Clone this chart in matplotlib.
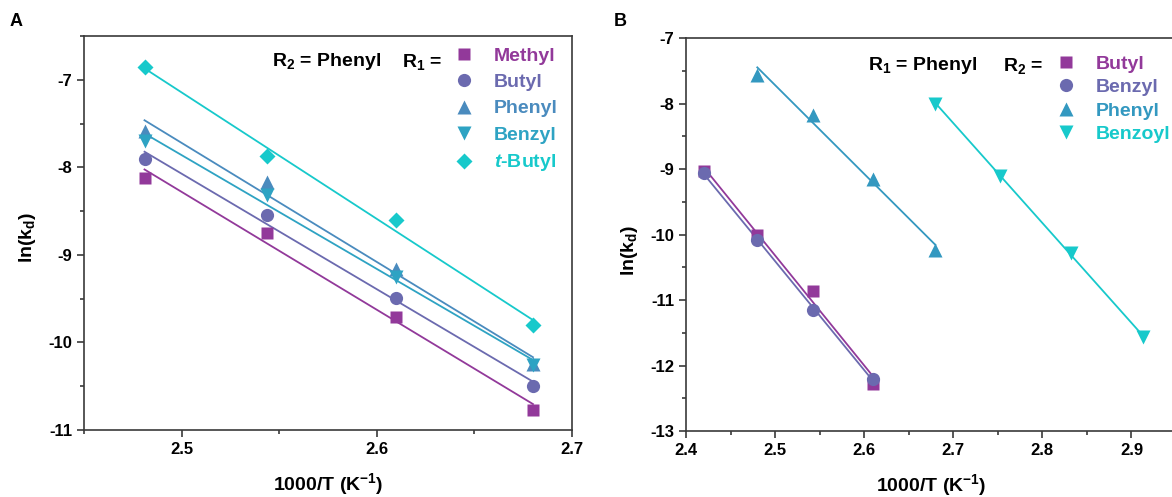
import numpy as np
import matplotlib.pyplot as plt
from matplotlib.lines import Line2D
from matplotlib.ticker import MultipleLocator

plt.rcParams['font.family'] = 'Liberation Sans'
plt.rcParams['font.weight'] = 'bold'
plt.rcParams['axes.labelweight'] = 'bold'
plt.rcParams['axes.unicode_minus'] = False
plt.rcParams['mathtext.fontset'] = 'custom'
plt.rcParams['mathtext.rm'] = 'Liberation Sans:bold'
plt.rcParams['mathtext.bf'] = 'Liberation Sans:bold'
plt.rcParams['mathtext.it'] = 'Liberation Sans:italic:bold'
plt.rcParams['mathtext.default'] = 'bf'

# Panel A: R2 = Phenyl, varying R1
x_a = [2.481, 2.5435, 2.610, 2.680]
labels_a = ['Methyl', 'Butyl', 'Phenyl', 'Benzyl', r'$\mathit{t}$-Butyl']
methyl_a = [-8.12, -8.75, -9.715, -10.77]
butyl_a = [-7.90, -8.55, -9.49, -10.50]
phenyl_a = [-7.58, -8.17, -9.16, -10.25]
benzyl_a = [-7.70, -8.32, -9.25, -10.26]
tbutyl_a = [-6.85, -7.87, -8.60, -9.80]
series_a = [methyl_a, butyl_a, phenyl_a, benzyl_a, tbutyl_a]

# Panel B: R1 = Phenyl, varying R2
labels_b = ['Butyl', 'Benzyl', 'Phenyl', 'Benzoyl']
x_butyl_b = [2.42, 2.48, 2.543, 2.61]
butyl_b = [-9.03, -10.00, -10.86, -12.28]
x_benzyl_b = [2.42, 2.48, 2.543, 2.61]
benzyl_b = [-9.06, -10.08, -11.16, -12.21]
x_phenyl_b = [2.48, 2.543, 2.61, 2.68]
phenyl_b = [-7.56, -8.17, -9.15, -10.24]
x_benzoyl_b = [2.68, 2.753, 2.832, 2.913]
benzoyl_b = [-8.01, -9.10, -10.28, -11.57]

colors_a = ['#92399A', '#6B6AAF', '#4A8BBE', '#2EA3C3', '#17C9CB']
markers_a = ['s', 'o', '^', 'v', 'D']
colors_b = ['#92399A', '#6B6AAF', '#3398C0', '#17C9CB']
markers_b = ['s', 'o', '^', 'v']
msizes = {'s': 8.5, 'o': 9.5, '^': 9.5, 'v': 9.5, 'D': 8.5}

W, H = 1172, 497
fig = plt.figure(figsize=(W / 100, H / 100), dpi=100)
axA = fig.add_axes([84 / W, (H - 430) / H, 488 / W, 394 / H])
axB = fig.add_axes([686 / W, (H - 431) / H, 490 / W, 393 / H])


def fit_line(ax, x, y, c):
    k, b = np.polyfit(x, y, 1)
    xs = np.array([min(x), max(x)])
    ax.plot(xs, k * xs + b, color=c, lw=1.3, zorder=2)


for y, c, m in zip(series_a, colors_a, markers_a):
    fit_line(axA, x_a, y, c)
    axA.plot(x_a, y, m, color=c, ms=msizes[m], mec='none', zorder=3)

xs_b = [x_butyl_b, x_benzyl_b, x_phenyl_b, x_benzoyl_b]
ys_b = [butyl_b, benzyl_b, phenyl_b, benzoyl_b]
for x, y, c, m in zip(xs_b, ys_b, colors_b, markers_b):
    fit_line(axB, x, y, c)
    axB.plot(x, y, m, color=c, ms=msizes[m], mec='none', zorder=3)

for ax in (axA, axB):
    for s in ax.spines.values():
        s.set_color('#3a3a3a')
        s.set_linewidth(1.2)
    ax.tick_params(which='both', direction='out', width=1.2, color='#3a3a3a',
                   top=False, right=False, labelsize=12)
    ax.tick_params(which='major', length=5)
    ax.tick_params(which='minor', length=3)
    ax.set_xlabel('1000/T (K$^{-1}$)', fontsize=14, labelpad=10)
    ax.set_ylabel('ln(k$_{d}$)', fontsize=14)

axA.set_xlim(2.45, 2.7)
axA.set_ylim(-11, -6.5)
axA.xaxis.set_major_locator(MultipleLocator(0.1))
axA.xaxis.set_minor_locator(MultipleLocator(0.05))
axA.yaxis.set_major_locator(MultipleLocator(1))
axA.yaxis.set_minor_locator(MultipleLocator(0.5))
axA.yaxis.set_label_coords(-0.095, 0.49)

axB.set_xlim(2.4, 2.95)
axB.set_ylim(-13, -7)
axB.xaxis.set_major_locator(MultipleLocator(0.1))
axB.xaxis.set_minor_locator(MultipleLocator(0.05))
axB.yaxis.set_major_locator(MultipleLocator(1))
axB.yaxis.set_minor_locator(MultipleLocator(0.5))
axB.yaxis.set_label_coords(-0.094, 0.46)


def make_legend(ax, labels, colors, markers, x0, y0, spacing):
    handles = [Line2D([], [], ls='none', marker=m, color=c, ms=msizes[m], mec='none')
               for c, m in zip(colors, markers)]
    ax.legend(handles, labels, loc='upper left',
              bbox_to_anchor=(x0 / W, 1 - y0 / H), bbox_transform=fig.transFigure,
              frameon=False, fontsize=14, labelcolor=colors, handlelength=1.0,
              handletextpad=1.05, borderpad=0, borderaxespad=0, labelspacing=spacing)


make_legend(axA, labels_a, colors_a, markers_a, 454, 47, 0.45)
make_legend(axB, labels_b, colors_b, markers_b, 1056, 55, 0.3)

fig.text(272 / W, 1 - 62 / H, 'R$_{2}$ = Phenyl', fontsize=14, va='center')
fig.text(402 / W, 1 - 62 / H, 'R$_{1}$ =', fontsize=14, va='center')
fig.text(868 / W, 1 - 66 / H, 'R$_{1}$ = Phenyl', fontsize=14, va='center')
fig.text(1003 / W, 1 - 66 / H, 'R$_{2}$ =', fontsize=14, va='center')

fig.text(10 / W, 1 - 21 / H, 'A', fontsize=13, va='center')
fig.text(614 / W, 1 - 21 / H, 'B', fontsize=13, va='center')

fig.savefig('out.png', dpi=100)
